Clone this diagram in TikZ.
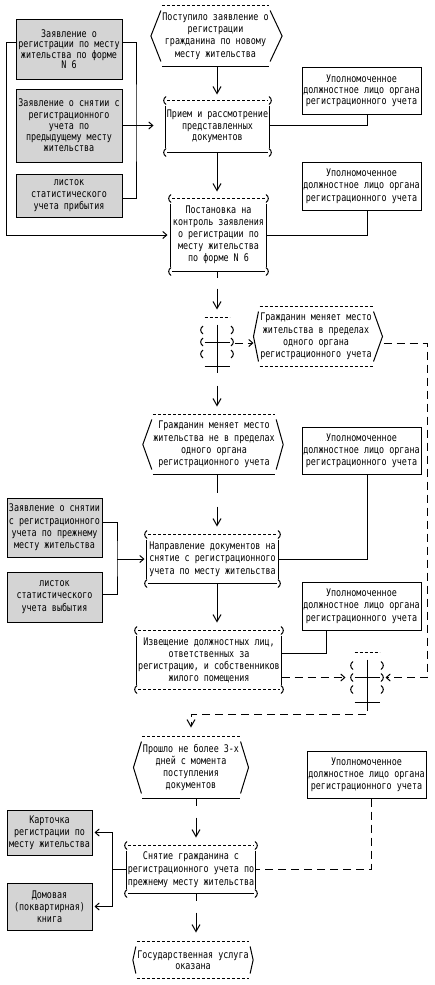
\documentclass[tikz,border=0pt]{standalone}
\usepackage{fontspec}
\newfontfamily\asciifont[FakeStretch=0.8]{DejaVu Sans Mono}
\usetikzlibrary{arrows.meta,calc}
\definecolor{docgray}{RGB}{212,212,212}
\newcommand{\parenat}[2]{\draw ($(#1)+(0.5,-4)$) .. controls ($(#1)+(#2*2.6,-1.5)$) and ($(#1)+(#2*2.6,1.5)$) .. ($(#1)+(0.5,4)$);}
\newcommand{\parenatr}[2]{\draw ($(#1)+(-0.5,-4)$) .. controls ($(#1)+(#2*2.6,-1.5)$) and ($(#1)+(#2*2.6,1.5)$) .. ($(#1)+(-0.5,4)$);}
\newcommand{\evshape}[5]{%
 \draw[#4] (#1.north west) -- (#1.north east);
 \draw[#5] (#1.south west) -- (#1.south east);
 \draw ([shift={(-1,5)}]#1.north west) -- ([shift={(-#2,0)}]#1.west) -- ([shift={(-1,-5)}]#1.south west);
 \draw ([shift={(1,5)}]#1.north east) -- ([shift={(#3,0)}]#1.east) -- ([shift={(1,-5)}]#1.south east);
}
\newcommand{\fnshape}[3]{%
 \draw[#2] ([shift={(1.5,0)}]#1.north west) -- ([shift={(-1.5,0)}]#1.north east);
 \draw[#3] ([shift={(1.5,0)}]#1.south west) -- ([shift={(-1.5,0)}]#1.south east);
 \draw ([shift={(0,5)}]#1.north west) -- ([shift={(0,-5)}]#1.south west);
 \draw ([shift={(0,5)}]#1.north east) -- ([shift={(0,-5)}]#1.south east);
 \parenat{#1.north west}{-1}\parenat{#1.south west}{-1}%
 \parenatr{#1.north east}{1}\parenatr{#1.south east}{1}%
}
\newcommand{\xorshape}[1]{%
 \draw[asc] (#1.north west) -- (#1.north east);
 \draw (#1.south west) -- (#1.south east);
 \draw (#1.west) -- (#1.east);
 \draw ([shift={(0,7)}]#1.north) -- ([shift={(0,6)}]#1.south);
 \foreach \dy in {-12,0,12} {%
  \coordinate (tmpl) at ($(#1.west)+(-2,\dy)$);
  \coordinate (tmpr) at ($(#1.east)+(2,\dy)$);
  \parenat{tmpl}{-1}\parenatr{tmpr}{1}}%
}
\begin{document}
\begin{tikzpicture}[x=1pt,y=-1pt,line width=1pt,
 txt/.style={font=\asciifont\fontsize{10.5}{#1}\selectfont, align=center, inner sep=0pt},
 txt/.default=12,
 doc/.style={draw, fill=docgray},
 role/.style={draw, fill=white},
 asc/.style={dash pattern=on 3pt off 2pt},
 conn/.style={dash pattern=on 8pt off 5pt},
 arrV/.style={-{Straight Barb[length=7pt,width=8pt]}},
 arrH/.style={-{Straight Barb[length=4pt,width=7pt]}},
 gapA/.style={dash pattern=on 6pt off 11pt on 80pt off 0pt},
 gapB/.style={dash pattern=on 6pt off 13pt on 80pt off 0pt},
 gapC/.style={dash pattern=on 18pt off 14pt on 80pt off 0pt},
 gapD/.style={dash pattern=on 7pt off 12pt on 80pt off 0pt}]
\fill[white] (0,0) rectangle (435,985);
\useasboundingbox (0,0) rectangle (435,985);

% documents
\node[doc, txt=10.4, minimum width=106pt, minimum height=60pt] (d1) at (69,49) {Заявление о\\регистрации по месту\\жительства по форме\\N 6};
\node[doc, txt=11.3, minimum width=106pt, minimum height=73pt] (d2) at (69,125.5) {Заявление о снятии с\\регистрационного\\учета по\\предыдущему месту\\жительства};
\node[doc, txt=12, minimum width=106pt, minimum height=43pt] (d3) at (69,195.5) {листок\\статистического\\учета прибытия};
\node[doc, txt=12.3, minimum width=95pt, minimum height=59pt] (d4) at (54.5,527.5) {Заявление о снятии\\с регистрационного\\учета по прежнему\\месту жительства};
\node[doc, txt=12.5, minimum width=95pt, minimum height=50pt] (d5) at (54.5,597) {листок\\статистического\\учета выбытия};
\node[doc, txt=12, minimum width=85pt, minimum height=45pt] (d6) at (49.5,832.5) {Карточка\\регистрации по\\месту жительства};
\node[doc, txt=12, minimum width=85pt, minimum height=47pt] (d7) at (49.5,906.5) {Домовая\\(поквартирная)\\книга};

% roles
\node[role, txt=10.8, minimum width=119pt, minimum height=47pt] (r1) at (361.5,90.5) {Уполномоченное\\должностное лицо органа\\регистрационного учета};
\node[role, txt=12.5, minimum width=119pt, minimum height=48pt] (r2) at (361.5,186) {Уполномоченное\\должностное лицо органа\\регистрационного учета};
\node[role, txt=12, minimum width=119pt, minimum height=47pt] (r3) at (361.5,450.5) {Уполномоченное\\должностное лицо органа\\регистрационного учета};
\node[role, txt=12.5, minimum width=119pt, minimum height=48pt] (r4) at (361.5,606) {Уполномоченное\\должностное лицо органа\\регистрационного учета};
\node[role, txt=12, minimum width=119pt, minimum height=47pt] (r5) at (366.5,774.5) {Уполномоченное\\должностное лицо органа\\регистрационного учета};

% events
\node[txt=12.3, minimum width=103pt, minimum height=60pt] (e1) at (215.5,36) {Поступило заявление о\\регистрации\\гражданина по новому\\месту жительства};
\node[txt=12.3, minimum width=112pt, minimum height=59pt] (e2) at (316,336.5) {Гражданин меняет место\\жительства в пределах\\одного органа\\регистрационного учета};
\node[txt=12.3, minimum width=118pt, minimum height=59pt] (e3) at (214,444.5) {Гражданин меняет место\\жительства не в пределах\\одного органа\\регистрационного учета};
\node[txt=12.3, minimum width=94pt, minimum height=61pt] (e4) at (191,767.5) {Прошло не более 3-х\\дней с момента\\поступления\\документов};
\node[txt=11, minimum width=110pt, minimum height=36pt] (e5) at (193,960) {Государственная услуга\\оказана};
\evshape{e1}{11}{13}{asc}{solid}
\evshape{e2}{6}{10}{asc}{asc}
\evshape{e3}{10}{8}{asc}{solid}
\evshape{e4}{9}{9}{asc}{solid}
\evshape{e5}{4}{4}{asc}{asc}

% functions
\node[txt=11.7, minimum width=103pt, minimum height=51pt] (f1) at (217.5,126.5) {Прием и рассмотрение\\представленных\\документов};
\node[txt=12, minimum width=95pt, minimum height=72pt] (f2) at (218.5,235) {Постановка на\\контроль заявления\\о регистрации по\\месту жительства\\по форме N 6};
\node[txt=12.4, minimum width=131pt, minimum height=48pt] (f3) at (212.5,559) {Направление документов на\\снятие с регистрационного\\учета по месту жительства};
\node[txt=12, minimum width=144pt, minimum height=58pt] (f4) at (209,660) {Извещение должностных лиц,\\ответственных за\\регистрацию, и собственников\\жилого помещения};
\node[txt=13, minimum width=128pt, minimum height=47pt] (f5) at (191,869.5) {Снятие гражданина с\\регистрационного учета по\\прежнему месту жительства};
\fnshape{f1}{asc}{solid}
\fnshape{f2}{asc}{solid}
\fnshape{f3}{asc}{solid}
\fnshape{f4}{asc}{asc}
\fnshape{f5}{asc}{solid}

% connectors (XOR)
\node[minimum width=24pt, minimum height=48pt, inner sep=0pt] (x1) at (217,342) {};
\node[minimum width=24pt, minimum height=49pt, inner sep=0pt] (x2) at (367,677.5) {};
\xorshape{x1}
\xorshape{x2}

% helper coordinates
\coordinate (bus1) at (136,125.5);
\coordinate (lbus) at (6,235);
\coordinate (rc) at (427,342);
\coordinate (colA) at (217,0);
\coordinate (colB) at (196,0);
\coordinate (bus2) at (117,559);
\coordinate (bus3) at (112,869.5);

% arrows and lines
\draw ([shift={(0,-7)}]d1.east) -| (bus1) |- ([shift={(0,2.5)}]d3.east);
\draw (d2.east) -- (bus1);
\draw[arrH, shorten >=12pt] (bus1) -- (bus1 -| f1.west);
\draw[arrH, shorten >=3pt] ([shift={(0,-7)}]d1.west) -| (lbus) -- (f2.west);
\draw[arrV, shorten >=6pt] (e1.south -| colA) -- (colA |- f1.north);
\draw ([shift={(5.5,0)}]r1.south) |- (bus1 -| f1.east);
\draw[arrV, shorten >=7pt] (f1.south -| colA) -- (colA |- f2.north);
\draw ([shift={(5.5,0)}]r2.south) |- (f2.east);
\draw[arrV, gapA, shorten >=8pt] (f2.south -| x1.north) -- (x1.north);
\draw[arrH, conn, shorten <=5pt, shorten >=6pt] ([shift={(0,1)}]x1.east) -- ([shift={(0,1)}]x1.east -| e2.west);
\draw[arrH, conn, shorten >=6pt] ($(e2.east |- rc)+(11,1)$) -- ([shift={(0,1)}]rc) |- (x2.east);
\draw[arrV, gapB, shorten >=8pt] (x1.south) -- (x1.south |- e3.north);
\draw[arrV, gapC, shorten >=8pt] (e3.south -| colA) -- (colA |- f3.north);
\draw ([shift={(5.5,0)}]r3.south) |- (f3.east);
\draw ([shift={(0,-5.5)}]d4.east) -| (bus2) |- ([shift={(0,-3)}]d5.east);
\draw[arrH, shorten >=2pt] (bus2) -- (f3.west);
\draw[arrV, shorten >=8pt] (f3.south -| colA) -- (colA |- f4.north);
\draw ([shift={(-35.5,0)}]r4.south) |- ([shift={(0,-7)}]f4.east);
\draw[arrH, conn, shorten >=9pt] (x2.west -| f4.east) -- (x2.west);
\draw[arrV, conn, shorten >=9pt] (x2.south) -- ++(0,12) -| (e4.north);
\draw[conn] ([shift={(4.5,0)}]r5.south) |- (f5.east);
\draw[arrV, gapD, shorten >=8pt] (e4.south -| colB) -- (colB |- f5.north);
\draw (f5.west) -- (bus3);
\draw[arrH, shorten >=2pt] (bus3) |- (d6.east);
\draw[arrH, shorten >=2pt] (bus3) |- (d7.east);
\draw[arrV, gapD, shorten >=9pt] (f5.south -| colB) -- (colB |- e5.north);
\end{tikzpicture}
\end{document}
